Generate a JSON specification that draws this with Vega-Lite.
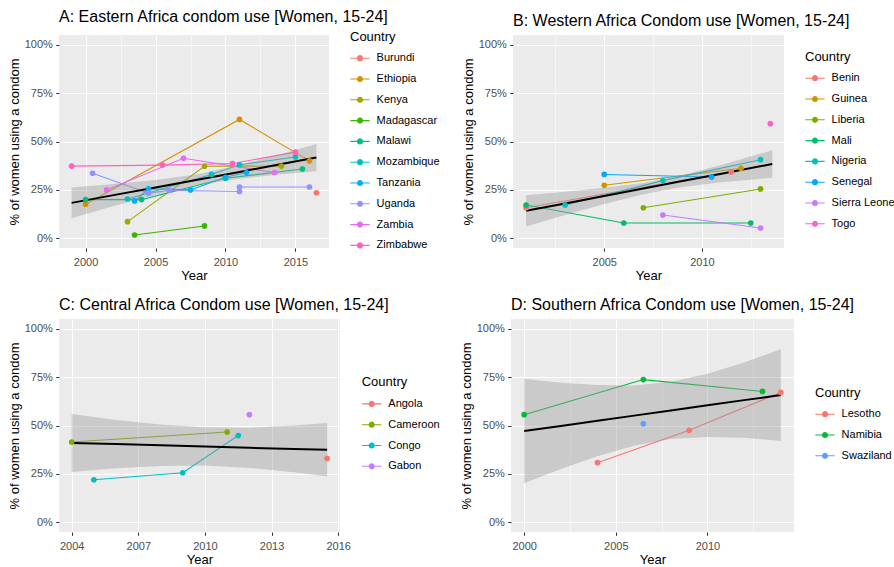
{
  "$schema": "https://vega.github.io/schema/vega-lite/v6.json",
  "background": "white",
  "padding": {"left": 8, "top": 8, "right": 0, "bottom": 0},
  "config": {
    "font": "Liberation Sans",
    "view": {"fill": "#EBEBEB", "stroke": null},
    "title": {"anchor": "start", "frame": "group", "fontSize": 16, "fontWeight": "normal", "color": "black", "offset": 6, "baseline": "alphabetic", "font": "Liberation Sans"},
    "axis": {"domain": false, "gridColor": "white", "tickColor": "#333333", "tickSize": 3.3, "labelColor": "#4D4D4D", "labelFontSize": 11, "titleFontSize": 13, "titleFontWeight": "normal", "titleColor": "black", "labelOverlap": false, "labelFlush": false,
      "gridWidth": {"condition": {"test": "datum.value % 1 === 0", "value": 1.1}, "value": 0.55},
      "tickOpacity": {"condition": {"test": "datum.value % 1 === 0", "value": 1}, "value": 0}},
    "axisX": {"labelPadding": 5.5, "titlePadding": 2, "labelExpr": "datum.value % 1 === 0 ? '' + datum.value : ''"},
    "axisY": {"labelPadding": 3.4, "titlePadding": 3, "labelExpr": "datum.value % 1 === 0 ? datum.value + '%' : ''"},
    "legend": {"padding": 0, "titleFontSize": 13, "titleFontWeight": "normal", "titleColor": "black", "labelFontSize": 11, "labelColor": "black", "symbolType": "M-1,-0.055H1V0.055H-1Z M0.32,0A0.32,0.32,0,1,1,-0.32,0A0.32,0.32,0,1,1,0.32,0Z", "symbolSize": 372, "symbolStrokeWidth": 0, "symbolOpacity": 1, "rowPadding": 5.8, "labelOffset": 6.6, "titlePadding": 4.5}
  },
  "datasets": {
    "A": [
      {"Country": "Burundi", "Year": 2016.5, "Pct": 23.5},
      {"Country": "Ethiopia", "Year": 2000, "Pct": 17.6},
      {"Country": "Ethiopia", "Year": 2011, "Pct": 61.4},
      {"Country": "Ethiopia", "Year": 2016, "Pct": 40.0},
      {"Country": "Kenya", "Year": 2003, "Pct": 8.6},
      {"Country": "Kenya", "Year": 2008.5, "Pct": 37.2},
      {"Country": "Kenya", "Year": 2014, "Pct": 37.3},
      {"Country": "Madagascar", "Year": 2003.5, "Pct": 1.7},
      {"Country": "Madagascar", "Year": 2008.5, "Pct": 6.4},
      {"Country": "Malawi", "Year": 2000, "Pct": 20.0},
      {"Country": "Malawi", "Year": 2004, "Pct": 20.0},
      {"Country": "Malawi", "Year": 2010, "Pct": 31.0},
      {"Country": "Malawi", "Year": 2015.5, "Pct": 35.8},
      {"Country": "Mozambique", "Year": 2003, "Pct": 20.3},
      {"Country": "Mozambique", "Year": 2009, "Pct": 33.0},
      {"Country": "Mozambique", "Year": 2011, "Pct": 38.0},
      {"Country": "Mozambique", "Year": 2015, "Pct": 42.0},
      {"Country": "Tanzania", "Year": 2003.5, "Pct": 19.3},
      {"Country": "Tanzania", "Year": 2004.5, "Pct": 25.6},
      {"Country": "Tanzania", "Year": 2007.5, "Pct": 25.0},
      {"Country": "Tanzania", "Year": 2010, "Pct": 31.5},
      {"Country": "Tanzania", "Year": 2011.5, "Pct": 34.0},
      {"Country": "Uganda", "Year": 2000.5, "Pct": 33.6},
      {"Country": "Uganda", "Year": 2004.5, "Pct": 23.3},
      {"Country": "Uganda", "Year": 2006, "Pct": 24.8},
      {"Country": "Uganda", "Year": 2011, "Pct": 24.2},
      {"Country": "Uganda", "Year": 2011, "Pct": 26.5},
      {"Country": "Uganda", "Year": 2016, "Pct": 26.5},
      {"Country": "Zambia", "Year": 2001.5, "Pct": 25.0},
      {"Country": "Zambia", "Year": 2007, "Pct": 41.3},
      {"Country": "Zambia", "Year": 2013.5, "Pct": 34.0},
      {"Country": "Zimbabwe", "Year": 1999, "Pct": 37.3},
      {"Country": "Zimbabwe", "Year": 2005.5, "Pct": 37.8},
      {"Country": "Zimbabwe", "Year": 2010.5, "Pct": 38.6},
      {"Country": "Zimbabwe", "Year": 2015, "Pct": 44.5}
    ],
    "fitA": [
      {"Year": 1999, "Fit": 18.3, "Lo": 10.4, "Hi": 26.2},
      {"Year": 2002, "Fit": 22.3, "Lo": 16.7, "Hi": 28.0},
      {"Year": 2005, "Fit": 26.3, "Lo": 22.5, "Hi": 30.1},
      {"Year": 2008, "Fit": 30.3, "Lo": 27.5, "Hi": 33.1},
      {"Year": 2011, "Fit": 34.3, "Lo": 30.8, "Hi": 37.8},
      {"Year": 2014, "Fit": 38.4, "Lo": 33.1, "Hi": 43.6},
      {"Year": 2016.5, "Fit": 41.7, "Lo": 34.7, "Hi": 48.7}
    ],
    "B": [
      {"Country": "Benin", "Year": 2001, "Pct": 15.8},
      {"Country": "Benin", "Year": 2011.5, "Pct": 34.3},
      {"Country": "Guinea", "Year": 2005, "Pct": 27.4},
      {"Country": "Guinea", "Year": 2012, "Pct": 36.2},
      {"Country": "Liberia", "Year": 2007, "Pct": 15.8},
      {"Country": "Liberia", "Year": 2013, "Pct": 25.5},
      {"Country": "Mali", "Year": 2001, "Pct": 17.2},
      {"Country": "Mali", "Year": 2006, "Pct": 7.9},
      {"Country": "Mali", "Year": 2012.5, "Pct": 7.9},
      {"Country": "Nigeria", "Year": 2003, "Pct": 17.2},
      {"Country": "Nigeria", "Year": 2008, "Pct": 29.8},
      {"Country": "Nigeria", "Year": 2013, "Pct": 40.6},
      {"Country": "Senegal", "Year": 2005, "Pct": 33.0},
      {"Country": "Senegal", "Year": 2010.5, "Pct": 31.7},
      {"Country": "Sierra Leone", "Year": 2008, "Pct": 12.0},
      {"Country": "Sierra Leone", "Year": 2013, "Pct": 5.3},
      {"Country": "Togo", "Year": 2013.5, "Pct": 59.2}
    ],
    "fitB": [
      {"Year": 2001, "Fit": 14.2, "Lo": 6.1, "Hi": 22.3},
      {"Year": 2003, "Fit": 18.0, "Lo": 12.0, "Hi": 24.1},
      {"Year": 2005, "Fit": 21.9, "Lo": 17.7, "Hi": 26.1},
      {"Year": 2007, "Fit": 25.7, "Lo": 22.8, "Hi": 28.6},
      {"Year": 2009, "Fit": 29.6, "Lo": 26.5, "Hi": 32.7},
      {"Year": 2011, "Fit": 33.4, "Lo": 28.9, "Hi": 37.9},
      {"Year": 2013.6, "Fit": 38.4, "Lo": 31.3, "Hi": 45.5}
    ],
    "C": [
      {"Country": "Angola", "Year": 2015.5, "Pct": 33.0},
      {"Country": "Cameroon", "Year": 2004, "Pct": 41.5},
      {"Country": "Cameroon", "Year": 2011, "Pct": 46.6},
      {"Country": "Congo", "Year": 2005, "Pct": 22.0},
      {"Country": "Congo", "Year": 2009, "Pct": 25.6},
      {"Country": "Congo", "Year": 2011.5, "Pct": 44.8},
      {"Country": "Gabon", "Year": 2012, "Pct": 55.6}
    ],
    "fitC": [
      {"Year": 2004, "Fit": 41.0, "Lo": 26.0, "Hi": 56.0},
      {"Year": 2006, "Fit": 40.4, "Lo": 27.9, "Hi": 52.9},
      {"Year": 2008, "Fit": 39.8, "Lo": 29.1, "Hi": 50.5},
      {"Year": 2010, "Fit": 39.2, "Lo": 29.3, "Hi": 49.1},
      {"Year": 2012, "Fit": 38.5, "Lo": 28.1, "Hi": 48.9},
      {"Year": 2014, "Fit": 37.9, "Lo": 25.8, "Hi": 50.0},
      {"Year": 2015.5, "Fit": 37.5, "Lo": 23.7, "Hi": 51.3}
    ],
    "D": [
      {"Country": "Lesotho", "Year": 2004, "Pct": 30.8},
      {"Country": "Lesotho", "Year": 2009, "Pct": 47.5},
      {"Country": "Lesotho", "Year": 2014, "Pct": 67.1},
      {"Country": "Namibia", "Year": 2000, "Pct": 55.6},
      {"Country": "Namibia", "Year": 2006.5, "Pct": 73.7},
      {"Country": "Namibia", "Year": 2013, "Pct": 67.6},
      {"Country": "Swaziland", "Year": 2006.5, "Pct": 50.9}
    ],
    "fitD": [
      {"Year": 2000, "Fit": 47.2, "Lo": 20.2, "Hi": 74.2},
      {"Year": 2002, "Fit": 49.8, "Lo": 27.5, "Hi": 72.1},
      {"Year": 2004, "Fit": 52.5, "Lo": 34.1, "Hi": 70.9},
      {"Year": 2006, "Fit": 55.1, "Lo": 39.5, "Hi": 70.7},
      {"Year": 2008, "Fit": 57.8, "Lo": 43.0, "Hi": 72.6},
      {"Year": 2010, "Fit": 60.4, "Lo": 44.1, "Hi": 76.7},
      {"Year": 2012, "Fit": 63.1, "Lo": 43.7, "Hi": 82.5},
      {"Year": 2014, "Fit": 65.7, "Lo": 42.0, "Hi": 89.4}
    ]
  },
  "spacing": 14,
  "resolve": {"scale": {"x": "independent", "y": "independent", "color": "independent"}, "legend": {"color": "independent"}, "axis": {"x": "independent", "y": "independent"}},
  "vconcat": [
    {
      "spacing": 22,
      "resolve": {"scale": {"x": "independent", "y": "independent", "color": "independent"}, "legend": {"color": "independent"}, "axis": {"x": "independent", "y": "independent"}},
      "hconcat": [
        {
          "width": 270, "height": 213,
          "title": {"text": "A: Eastern Africa condom use [Women, 15-24]"},
          "layer": [
            {"data": {"name": "A"}, "mark": {"type": "line", "strokeWidth": 1.07},
             "encoding": {
               "x": {"field": "Year", "type": "quantitative", "title": "Year", "scale": {"domain": [1998.1, 2017.4], "nice": false, "zero": false}, "axis": {"values": [2000, 2002.5, 2005, 2007.5, 2010, 2012.5, 2015]}},
               "y": {"field": "Pct", "type": "quantitative", "title": "% of women using a condom", "scale": {"domain": [-5, 105], "nice": false, "zero": false}, "axis": {"values": [0, 12.5, 25, 37.5, 50, 62.5, 75, 87.5, 100]}},
               "color": {"field": "Country", "type": "nominal", "scale": {"domain": ["Burundi", "Ethiopia", "Kenya", "Madagascar", "Malawi", "Mozambique", "Tanzania", "Uganda", "Zambia", "Zimbabwe"], "range": ["#F8766D", "#D89000", "#A3A500", "#39B600", "#00BF7D", "#00BFC4", "#00B0F6", "#9590FF", "#E76BF3", "#FF62BC"]}, "legend": {"orient": "none", "legendX": 291, "legendY": -4.3, "title": "Country"}}
             }},
            {"data": {"name": "fitA"}, "mark": {"type": "area", "color": "#999999", "opacity": 0.4},
             "encoding": {"x": {"field": "Year", "type": "quantitative", "title": "Year"}, "y": {"field": "Lo", "type": "quantitative", "title": "% of women using a condom"}, "y2": {"field": "Hi"}}},
            {"data": {"name": "fitA"}, "mark": {"type": "line", "color": "black", "strokeWidth": 2},
             "encoding": {"x": {"field": "Year", "type": "quantitative", "title": "Year"}, "y": {"field": "Fit", "type": "quantitative", "title": "% of women using a condom"}}},
            {"data": {"name": "A"}, "mark": {"type": "point", "filled": true, "size": 32, "opacity": 1},
             "encoding": {
               "x": {"field": "Year", "type": "quantitative", "title": "Year"},
               "y": {"field": "Pct", "type": "quantitative", "title": "% of women using a condom"},
               "color": {"field": "Country", "type": "nominal", "legend": {"orient": "none", "legendX": 291, "legendY": -4.3, "title": "Country"}}
             }}
          ]
        },
        {
          "width": 271, "height": 213,
          "title": {"text": "B: Western Africa Condom use [Women, 15-24]"},
          "layer": [
            {"data": {"name": "B"}, "mark": {"type": "line", "strokeWidth": 1.07},
             "encoding": {
               "x": {"field": "Year", "type": "quantitative", "title": "Year", "scale": {"domain": [2000.33, 2014.2], "nice": false, "zero": false}, "axis": {"values": [2002.5, 2005, 2007.5, 2010, 2012.5]}},
               "y": {"field": "Pct", "type": "quantitative", "title": "% of women using a condom", "scale": {"domain": [-5, 105], "nice": false, "zero": false}, "axis": {"values": [0, 12.5, 25, 37.5, 50, 62.5, 75, 87.5, 100]}},
               "color": {"field": "Country", "type": "nominal", "scale": {"domain": ["Benin", "Guinea", "Liberia", "Mali", "Nigeria", "Senegal", "Sierra Leone", "Togo"], "range": ["#F8766D", "#CD9600", "#7CAE00", "#00BE67", "#00BFC4", "#00A9FF", "#C77CFF", "#FF61CC"]}, "legend": {"orient": "none", "legendX": 292, "legendY": 15.7, "title": "Country"}}
             }},
            {"data": {"name": "fitB"}, "mark": {"type": "area", "color": "#999999", "opacity": 0.4},
             "encoding": {"x": {"field": "Year", "type": "quantitative", "title": "Year"}, "y": {"field": "Lo", "type": "quantitative", "title": "% of women using a condom"}, "y2": {"field": "Hi"}}},
            {"data": {"name": "fitB"}, "mark": {"type": "line", "color": "black", "strokeWidth": 2},
             "encoding": {"x": {"field": "Year", "type": "quantitative", "title": "Year"}, "y": {"field": "Fit", "type": "quantitative", "title": "% of women using a condom"}}},
            {"data": {"name": "B"}, "mark": {"type": "point", "filled": true, "size": 32, "opacity": 1},
             "encoding": {
               "x": {"field": "Year", "type": "quantitative", "title": "Year"},
               "y": {"field": "Pct", "type": "quantitative", "title": "% of women using a condom"},
               "color": {"field": "Country", "type": "nominal", "legend": {"orient": "none", "legendX": 292, "legendY": 15.7, "title": "Country"}}
             }}
          ]
        }
      ]
    },
    {
      "spacing": 20,
      "resolve": {"scale": {"x": "independent", "y": "independent", "color": "independent"}, "legend": {"color": "independent"}, "axis": {"x": "independent", "y": "independent"}},
      "hconcat": [
        {
          "width": 281, "height": 213,
          "title": {"text": "C: Central Africa Condom use [Women, 15-24]"},
          "layer": [
            {"data": {"name": "C"}, "mark": {"type": "line", "strokeWidth": 1.07},
             "encoding": {
               "x": {"field": "Year", "type": "quantitative", "title": "Year", "scale": {"domain": [2003.43, 2016.08], "nice": false, "zero": false}, "axis": {"values": [2004, 2005.5, 2007, 2008.5, 2010, 2011.5, 2013, 2014.5, 2016]}},
               "y": {"field": "Pct", "type": "quantitative", "title": "% of women using a condom", "scale": {"domain": [-5, 105], "nice": false, "zero": false}, "axis": {"values": [0, 12.5, 25, 37.5, 50, 62.5, 75, 87.5, 100]}},
               "color": {"field": "Country", "type": "nominal", "scale": {"domain": ["Angola", "Cameroon", "Congo", "Gabon"], "range": ["#F8766D", "#7CAE00", "#00BFC4", "#C77CFF"]}, "legend": {"orient": "none", "legendX": 302.7, "legendY": 57.4, "title": "Country"}}
             }},
            {"data": {"name": "fitC"}, "mark": {"type": "area", "color": "#999999", "opacity": 0.4},
             "encoding": {"x": {"field": "Year", "type": "quantitative", "title": "Year"}, "y": {"field": "Lo", "type": "quantitative", "title": "% of women using a condom"}, "y2": {"field": "Hi"}}},
            {"data": {"name": "fitC"}, "mark": {"type": "line", "color": "black", "strokeWidth": 2},
             "encoding": {"x": {"field": "Year", "type": "quantitative", "title": "Year"}, "y": {"field": "Fit", "type": "quantitative", "title": "% of women using a condom"}}},
            {"data": {"name": "C"}, "mark": {"type": "point", "filled": true, "size": 32, "opacity": 1},
             "encoding": {
               "x": {"field": "Year", "type": "quantitative", "title": "Year"},
               "y": {"field": "Pct", "type": "quantitative", "title": "% of women using a condom"},
               "color": {"field": "Country", "type": "nominal", "legend": {"orient": "none", "legendX": 302.7, "legendY": 57.4, "title": "Country"}}
             }}
          ]
        },
        {
          "width": 283, "height": 213,
          "title": {"text": "D: Southern Africa Condom use [Women, 15-24]"},
          "layer": [
            {"data": {"name": "D"}, "mark": {"type": "line", "strokeWidth": 1.07},
             "encoding": {
               "x": {"field": "Year", "type": "quantitative", "title": "Year", "scale": {"domain": [1999.28, 2014.72], "nice": false, "zero": false}, "axis": {"values": [2000, 2002.5, 2005, 2007.5, 2010, 2012.5]}},
               "y": {"field": "Pct", "type": "quantitative", "title": "% of women using a condom", "scale": {"domain": [-5, 105], "nice": false, "zero": false}, "axis": {"values": [0, 12.5, 25, 37.5, 50, 62.5, 75, 87.5, 100]}},
               "color": {"field": "Country", "type": "nominal", "scale": {"domain": ["Lesotho", "Namibia", "Swaziland"], "range": ["#F8766D", "#00BA38", "#619CFF"]}, "legend": {"orient": "none", "legendX": 304, "legendY": 67.7, "title": "Country"}}
             }},
            {"data": {"name": "fitD"}, "mark": {"type": "area", "color": "#999999", "opacity": 0.4},
             "encoding": {"x": {"field": "Year", "type": "quantitative", "title": "Year"}, "y": {"field": "Lo", "type": "quantitative", "title": "% of women using a condom"}, "y2": {"field": "Hi"}}},
            {"data": {"name": "fitD"}, "mark": {"type": "line", "color": "black", "strokeWidth": 2},
             "encoding": {"x": {"field": "Year", "type": "quantitative", "title": "Year"}, "y": {"field": "Fit", "type": "quantitative", "title": "% of women using a condom"}}},
            {"data": {"name": "D"}, "mark": {"type": "point", "filled": true, "size": 32, "opacity": 1},
             "encoding": {
               "x": {"field": "Year", "type": "quantitative", "title": "Year"},
               "y": {"field": "Pct", "type": "quantitative", "title": "% of women using a condom"},
               "color": {"field": "Country", "type": "nominal", "legend": {"orient": "none", "legendX": 304, "legendY": 67.7, "title": "Country"}}
             }}
          ]
        }
      ]
    }
  ]
}
